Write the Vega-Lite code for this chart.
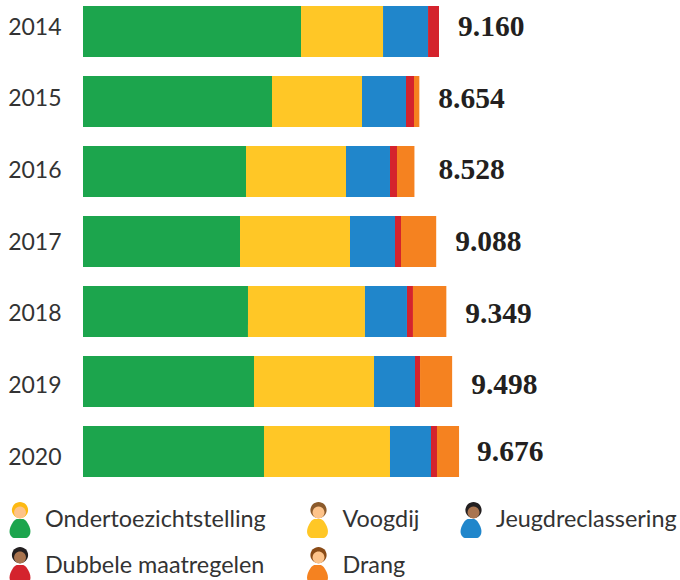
{
"$schema":"https://vega.github.io/schema/vega-lite/v6.json",
"autosize":{"type":"none"},
"padding":{"left":83,"top":0,"right":0,"bottom":97},
"width":597,"height":483,
"background":"white",
"datasets":{
"bars":[
{"jaar":"2014","soort":"Ondertoezichtstelling","aantal":5610},{"jaar":"2014","soort":"Voogdij","aantal":2110},{"jaar":"2014","soort":"Jeugdreclassering","aantal":1158},{"jaar":"2014","soort":"Dubbele maatregelen","aantal":282},{"jaar":"2014","soort":"Drang","aantal":0},
{"jaar":"2015","soort":"Ondertoezichtstelling","aantal":4863},{"jaar":"2015","soort":"Voogdij","aantal":2316},{"jaar":"2015","soort":"Jeugdreclassering","aantal":1132},{"jaar":"2015","soort":"Dubbele maatregelen","aantal":206},{"jaar":"2015","soort":"Drang","aantal":137},
{"jaar":"2016","soort":"Ondertoezichtstelling","aantal":4194},{"jaar":"2016","soort":"Voogdij","aantal":2573},{"jaar":"2016","soort":"Jeugdreclassering","aantal":1132},{"jaar":"2016","soort":"Dubbele maatregelen","aantal":180},{"jaar":"2016","soort":"Drang","aantal":449},
{"jaar":"2017","soort":"Ondertoezichtstelling","aantal":4040},{"jaar":"2017","soort":"Voogdij","aantal":2830},{"jaar":"2017","soort":"Jeugdreclassering","aantal":1158},{"jaar":"2017","soort":"Dubbele maatregelen","aantal":154},{"jaar":"2017","soort":"Drang","aantal":906},
{"jaar":"2018","soort":"Ondertoezichtstelling","aantal":4245},{"jaar":"2018","soort":"Voogdij","aantal":3010},{"jaar":"2018","soort":"Jeugdreclassering","aantal":1081},{"jaar":"2018","soort":"Dubbele maatregelen","aantal":154},{"jaar":"2018","soort":"Drang","aantal":859},
{"jaar":"2019","soort":"Ondertoezichtstelling","aantal":4400},{"jaar":"2019","soort":"Voogdij","aantal":3088},{"jaar":"2019","soort":"Jeugdreclassering","aantal":1055},{"jaar":"2019","soort":"Dubbele maatregelen","aantal":129},{"jaar":"2019","soort":"Drang","aantal":826},
{"jaar":"2020","soort":"Ondertoezichtstelling","aantal":4657},{"jaar":"2020","soort":"Voogdij","aantal":3242},{"jaar":"2020","soort":"Jeugdreclassering","aantal":1055},{"jaar":"2020","soort":"Dubbele maatregelen","aantal":154},{"jaar":"2020","soort":"Drang","aantal":568}
],
"totalen":[
{"jaar":"2014","totaal":9160,"label":"9.160"},{"jaar":"2015","totaal":8654,"label":"8.654"},{"jaar":"2016","totaal":8528,"label":"8.528"},{"jaar":"2017","totaal":9088,"label":"9.088"},{"jaar":"2018","totaal":9349,"label":"9.349"},{"jaar":"2019","totaal":9498,"label":"9.498"},{"jaar":"2020","totaal":9676,"label":"9.676"}
],
"soorten":[{"soort":"Ondertoezichtstelling"},{"soort":"Voogdij"},{"soort":"Jeugdreclassering"},{"soort":"Dubbele maatregelen"},{"soort":"Drang"}]
},
"layer":[
{"data":{"name":"bars"},
 "mark":{"type":"bar"},
 "transform":[{"calculate":"indexof(['Ondertoezichtstelling','Voogdij','Jeugdreclassering','Dubbele maatregelen','Drang'],datum.soort)","as":"volgorde"}],
 "encoding":{
  "y":{"field":"jaar","type":"nominal","scale":{"paddingInner":0.2714,"paddingOuter":0.0857},"axis":null},
  "x":{"field":"aantal","type":"quantitative","stack":"zero","scale":{"domain":[0,15361],"nice":false},"axis":null},
  "order":{"field":"volgorde","type":"quantitative"},
  "color":{"field":"soort","type":"nominal","scale":{"domain":["Ondertoezichtstelling","Dubbele maatregelen","Voogdij","Drang","Jeugdreclassering"],"range":["#1ca54d","#d4232d","#ffc726","#f58220","#2086cb"]},
   "legend":{"title":null,"orient":"none","legendX":-81,"legendY":502,"columns":3,"columnPadding":33.5,"rowPadding":10,"symbolType":"M-0.18,-0.05 C-0.35,0 -0.45,0.2 -0.55,0.45 C-0.63,0.7 -0.55,0.95 -0.35,1 L0.35,1 C0.55,0.95 0.63,0.7 0.55,0.45 C0.45,0.2 0.35,0 0.18,-0.05 Z","symbolSize":1296,"symbolStrokeWidth":0,"labelFont":"Lato","labelFontSize":23.4,"labelColor":"#333333","labelLimit":300,"labelOffset":7}}
 }},
{"data":{"name":"soorten"},"mark":{"type":"point","filled":true,"opacity":0},
 "encoding":{"color":{"field":"soort","type":"nominal","scale":{"domain":["Ondertoezichtstelling","Dubbele maatregelen"],"range":["#fdb913","#231f20"]},
  "legend":{"title":null,"orient":"none","legendX":-81,"legendY":502,"columns":1,"rowPadding":22,"symbolOpacity":1,"symbolType":"M-0.45,-0.55 A0.45,0.45 0 1 1 0.45,-0.55 A0.45,0.45 0 1 1 -0.45,-0.55 Z","symbolSize":1296,"symbolStrokeWidth":0,"labelExpr":"''"}}}},
{"data":{"name":"soorten"},"mark":{"type":"point","filled":true,"opacity":0},
 "encoding":{"color":{"field":"soort","type":"nominal","scale":{"domain":["Voogdij","Drang"],"range":["#8b5a2b","#8a4b16"]},
  "legend":{"title":null,"orient":"none","legendX":217.5,"legendY":502,"columns":1,"rowPadding":22,"symbolOpacity":1,"symbolType":"M-0.45,-0.55 A0.45,0.45 0 1 1 0.45,-0.55 A0.45,0.45 0 1 1 -0.45,-0.55 Z","symbolSize":1296,"symbolStrokeWidth":0,"labelExpr":"''"}}}},
{"data":{"name":"soorten"},"mark":{"type":"point","filled":true,"opacity":0},
 "encoding":{"color":{"field":"soort","type":"nominal","scale":{"domain":["Jeugdreclassering"],"range":["#231f20"]},
  "legend":{"title":null,"orient":"none","legendX":372.5,"legendY":502,"columns":1,"rowPadding":22,"symbolOpacity":1,"symbolType":"M-0.45,-0.55 A0.45,0.45 0 1 1 0.45,-0.55 A0.45,0.45 0 1 1 -0.45,-0.55 Z","symbolSize":1296,"symbolStrokeWidth":0,"labelExpr":"''"}}}},
{"data":{"name":"soorten"},"mark":{"type":"point","filled":true,"opacity":0},
 "encoding":{"color":{"field":"soort","type":"nominal","scale":{"domain":["Ondertoezichtstelling","Dubbele maatregelen"],"range":["#fdc38a","#a9744f"]},
  "legend":{"title":null,"orient":"none","legendX":-81,"legendY":502,"columns":1,"rowPadding":22,"symbolOpacity":1,"symbolType":"M-0.33,-0.42 A0.33,0.33 0 1 1 0.33,-0.42 A0.33,0.33 0 1 1 -0.33,-0.42 Z","symbolSize":1296,"symbolStrokeWidth":0,"labelExpr":"''"}}}},
{"data":{"name":"soorten"},"mark":{"type":"point","filled":true,"opacity":0},
 "encoding":{"color":{"field":"soort","type":"nominal","scale":{"domain":["Voogdij","Drang"],"range":["#fdc38a","#fdc38a"]},
  "legend":{"title":null,"orient":"none","legendX":217.5,"legendY":502,"columns":1,"rowPadding":22,"symbolOpacity":1,"symbolType":"M-0.33,-0.42 A0.33,0.33 0 1 1 0.33,-0.42 A0.33,0.33 0 1 1 -0.33,-0.42 Z","symbolSize":1296,"symbolStrokeWidth":0,"labelExpr":"''"}}}},
{"data":{"name":"soorten"},"mark":{"type":"point","filled":true,"opacity":0},
 "encoding":{"color":{"field":"soort","type":"nominal","scale":{"domain":["Jeugdreclassering"],"range":["#a9744f"]},
  "legend":{"title":null,"orient":"none","legendX":372.5,"legendY":502,"columns":1,"rowPadding":22,"symbolOpacity":1,"symbolType":"M-0.33,-0.42 A0.33,0.33 0 1 1 0.33,-0.42 A0.33,0.33 0 1 1 -0.33,-0.42 Z","symbolSize":1296,"symbolStrokeWidth":0,"labelExpr":"''"}}}},
{"data":{"name":"totalen"},
 "mark":{"type":"text","align":"left","baseline":"middle","dx":{"expr":"datum.jaar=='2016'?24:datum.jaar=='2020'?18:19"},"dy":{"expr":"datum.jaar=='2020'?-5:0"},"font":"Liberation Serif","fontWeight":"bold","fontSize":29.5,"color":"#231f20"},
 "encoding":{
  "y":{"field":"jaar","type":"nominal","scale":{"type":"point","padding":0,"range":[27,457]},"axis":{"orient":"left","title":null,"domain":false,"ticks":false,"labelPadding":22,"labelFont":"Lato","labelFontSize":23,"labelColor":"#333333","grid":false}},
  "x":{"field":"totaal","type":"quantitative","scale":{"domain":[0,15361],"nice":false},"axis":null},
  "text":{"field":"label"}
 }}
],
"resolve":{"scale":{"y":"independent","color":"independent"}},
"config":{"view":{"stroke":null}}
}
